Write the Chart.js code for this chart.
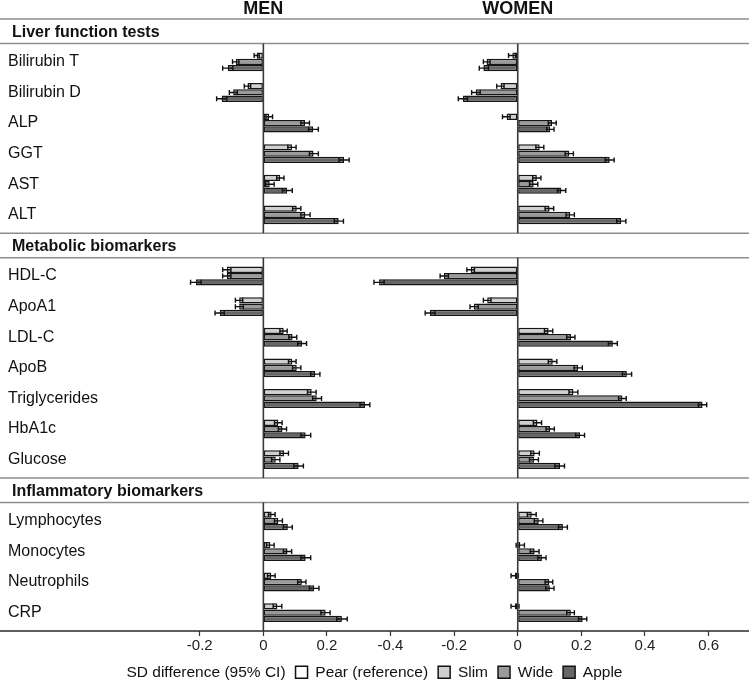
<!DOCTYPE html>
<html><head><meta charset="utf-8">
<script src="https://cdn.jsdelivr.net/npm/chart.js@4.4.1/dist/chart.umd.min.js"></script>
<style>
html,body{margin:0;padding:0;background:#fff;overflow:hidden;}
#wrap{position:relative;width:749px;height:682px;overflow:hidden;background:#fff;}
#wrap canvas{position:absolute;left:0;top:0;}
</style></head><body>
<div id="wrap"><canvas id="men" width="749" height="690"></canvas><canvas id="women" width="749" height="690"></canvas></div>
<script>
// ---------- text ----------
const panelTitles = ['MEN', 'WOMEN'];
const sectionTitles = ['Liver function tests', 'Metabolic biomarkers', 'Inflammatory biomarkers'];
const liverTests = ['Bilirubin T', 'Bilirubin D', 'ALP', 'GGT', 'AST', 'ALT'];
const metabolicMarkers = ['HDL-C', 'ApoA1', 'LDL-C', 'ApoB', 'Triglycerides', 'HbA1c', 'Glucose'];
const inflammatoryMarkers = ['Lymphocytes', 'Monocytes', 'Neutrophils', 'CRP'];
const seriesNames = ['Pear (reference)', 'Slim', 'Wide', 'Apple'];
const legendTitle = 'SD difference (95% CI)';
const menTicks = [-0.2, 0, 0.2];
const womenTicks = [-0.4, -0.2, 0, 0.2, 0.4, 0.6];

// ---------- data (row order: liver, metabolic, inflammatory) ----------
const menSlim    = [-0.021,-0.050, 0.018, 0.090, 0.053, 0.105,-0.115,-0.076, 0.064, 0.091, 0.152, 0.047, 0.065, 0.026, 0.022, 0.025, 0.044];
const menSlimLo  = [-0.029,-0.060, 0.008, 0.077, 0.042, 0.092,-0.128,-0.088, 0.052, 0.079, 0.139, 0.035, 0.052, 0.016, 0.010, 0.013, 0.031];
const menSlimHi  = [-0.013,-0.040, 0.029, 0.103, 0.065, 0.118,-0.102,-0.065, 0.075, 0.103, 0.166, 0.059, 0.079, 0.037, 0.034, 0.037, 0.058];
const menWide    = [-0.087,-0.095, 0.131, 0.158, 0.020, 0.132,-0.115,-0.076, 0.092, 0.105, 0.168, 0.060, 0.039, 0.047, 0.076, 0.121, 0.196];
const menWideLo  = [-0.097,-0.107, 0.118, 0.145, 0.007, 0.118,-0.128,-0.088, 0.080, 0.092, 0.155, 0.047, 0.026, 0.035, 0.063, 0.108, 0.181];
const menWideHi  = [-0.077,-0.082, 0.145, 0.173, 0.034, 0.147,-0.102,-0.063, 0.105, 0.118, 0.183, 0.073, 0.052, 0.060, 0.089, 0.134, 0.210];
const menApple   = [-0.112,-0.131, 0.157, 0.254, 0.075, 0.237,-0.212,-0.137, 0.122, 0.163, 0.320, 0.133, 0.111, 0.077, 0.133, 0.160, 0.247];
const menAppleLo = [-0.128,-0.147, 0.142, 0.238, 0.060, 0.223,-0.229,-0.152, 0.108, 0.149, 0.304, 0.118, 0.096, 0.063, 0.118, 0.145, 0.231];
const menAppleHi = [-0.096,-0.115, 0.173, 0.270, 0.091, 0.252,-0.196,-0.123, 0.136, 0.178, 0.335, 0.149, 0.126, 0.091, 0.149, 0.175, 0.264];

const womenSlim    = [-0.017,-0.054,-0.035, 0.069, 0.060, 0.100,-0.148,-0.096, 0.097, 0.110, 0.175, 0.062, 0.053, 0.044, 0.008,-0.009,-0.009];
const womenSlimLo  = [-0.029,-0.066,-0.048, 0.057, 0.047, 0.086,-0.160,-0.108, 0.084, 0.096, 0.161, 0.049, 0.041, 0.030,-0.005,-0.021,-0.021];
const womenSlimHi  = [-0.006,-0.043,-0.024, 0.082, 0.073, 0.113,-0.136,-0.084, 0.110, 0.123, 0.189, 0.075, 0.068, 0.058, 0.021, 0.002, 0.004];
const womenWide    = [-0.098,-0.132, 0.108, 0.162, 0.050, 0.165,-0.232,-0.138, 0.168, 0.190, 0.329, 0.102, 0.051, 0.066, 0.053, 0.099, 0.167];
const womenWideLo  = [-0.108,-0.145, 0.096, 0.149, 0.037, 0.152,-0.244,-0.150, 0.154, 0.177, 0.317, 0.089, 0.037, 0.052, 0.039, 0.086, 0.154];
const womenWideHi  = [-0.087,-0.118, 0.121, 0.175, 0.063, 0.178,-0.218,-0.124, 0.180, 0.203, 0.341, 0.115, 0.065, 0.079, 0.067, 0.110, 0.178];
const womenApple   = [-0.108,-0.172, 0.102, 0.289, 0.137, 0.325,-0.436,-0.276, 0.299, 0.343, 0.581, 0.196, 0.133, 0.142, 0.076, 0.101, 0.204];
const womenAppleLo = [-0.121,-0.187, 0.091, 0.275, 0.125, 0.311,-0.452,-0.291, 0.285, 0.329, 0.568, 0.182, 0.117, 0.128, 0.063, 0.088, 0.191];
const womenAppleHi = [-0.092,-0.158, 0.114, 0.303, 0.151, 0.340,-0.420,-0.260, 0.313, 0.358, 0.594, 0.210, 0.147, 0.156, 0.089, 0.114, 0.217];

// ---------- styling ----------
const FONT = "'Liberation Sans', Arial, Helvetica, sans-serif";
const seriesColors = ['#ffffff', '#d0d0d0', '#9a9a9a', '#676767'];
Chart.defaults.font.family = FONT;
Chart.defaults.color = '#111';

// ---------- row layout (in row units) ----------
const HEAD = 0.8, PAD = 0.6;
const groups = [liverTests, metabolicMarkers, inflammatoryMarkers];
const categories = [], rowPos = [], sectionLayout = [];
let cursor = 0;
groups.forEach((g, gi) => {
  const top = cursor, headBottom = cursor + HEAD;
  let p = headBottom + PAD;
  g.forEach(c => { categories.push(c); rowPos.push(p); p += 1; });
  const end = p - 1 + PAD;
  sectionLayout.push({ title: sectionTitles[gi], top, headBottom, end });
  cursor = end;
});
const Y_MAX = cursor;

const CHART_TOP = 19, AXIS_Y = 631, MEN_AREA_LEFT = 168, SPLIT_X = 374.6, LEGEND_SHIFT = 27.8;

function pts(vals) { return vals.map((v, i) => ({ x: v, y: rowPos[i] })); }

function makeDatasets(slim, slimLo, slimHi, wide, wideLo, wideHi, apple, appleLo, appleHi) {
  return [
    { label: seriesNames[0], data: rowPos.map(p => ({ x: null, y: p })), backgroundColor: seriesColors[0], grouped: false },
    { label: seriesNames[1], data: pts(slim), ciLo: slimLo, ciHi: slimHi, backgroundColor: seriesColors[1] },
    { label: seriesNames[2], data: pts(wide), ciLo: wideLo, ciHi: wideHi, backgroundColor: seriesColors[2] },
    { label: seriesNames[3], data: pts(apple), ciLo: appleLo, ciHi: appleHi, backgroundColor: seriesColors[3] }
  ];
}

const framePlugin = {
  id: 'frame',
  beforeDatasetsDraw(chart, args, opts) {
    if (!opts.drawFrame) return;
    const ctx = chart.ctx, y = chart.scales.y;
    ctx.save();
    ctx.strokeStyle = '#8e8e8e'; ctx.lineWidth = 1.5;
    sectionLayout.forEach(s => {
      [s.top, s.headBottom].forEach(v => {
        const py = y.getPixelForValue(v);
        ctx.beginPath(); ctx.moveTo(0, py); ctx.lineTo(chart.width, py); ctx.stroke();
      });
    });
    const pb = y.getPixelForValue(Y_MAX);
    ctx.strokeStyle = '#2a2a2a'; ctx.lineWidth = 1.6;
    ctx.beginPath(); ctx.moveTo(0, pb); ctx.lineTo(chart.width, pb); ctx.stroke();
    ctx.fillStyle = '#111'; ctx.font = 'bold 16px ' + FONT;
    ctx.textAlign = 'left'; ctx.textBaseline = 'alphabetic';
    sectionLayout.forEach(s => {
      const py = y.getPixelForValue((s.top + s.headBottom) / 2);
      ctx.fillText(s.title, 12, py + 5.7);
    });
    ctx.restore();
  },
  afterDatasetsDraw(chart, args, opts) {
    const ctx = chart.ctx, x = chart.scales.x, y = chart.scales.y;
    ctx.save();
    // error bars
    ctx.strokeStyle = '#111'; ctx.lineWidth = 1.4;
    chart.data.datasets.forEach((ds, di) => {
      if (!ds.ciLo) return;
      const meta = chart.getDatasetMeta(di);
      meta.data.forEach((el, i) => {
        const cy = el.y;
        const x1 = x.getPixelForValue(ds.ciLo[i]), x2 = x.getPixelForValue(ds.ciHi[i]);
        ctx.beginPath();
        ctx.moveTo(x1, cy); ctx.lineTo(x2, cy);
        ctx.moveTo(x1, cy - 2.5); ctx.lineTo(x1, cy + 2.5);
        ctx.moveTo(x2, cy - 2.5); ctx.lineTo(x2, cy + 2.5);
        ctx.stroke();
      });
    });
    // zero lines per section
    const zx = x.getPixelForValue(0);
    ctx.strokeStyle = '#3a3a3a'; ctx.lineWidth = 1.6;
    sectionLayout.forEach(s => {
      ctx.beginPath();
      ctx.moveTo(zx, y.getPixelForValue(s.headBottom));
      ctx.lineTo(zx, y.getPixelForValue(s.end));
      ctx.stroke();
    });
    // panel title
    ctx.fillStyle = '#111'; ctx.font = 'bold 18px ' + FONT;
    ctx.textAlign = 'center'; ctx.textBaseline = 'alphabetic';
    ctx.fillText(opts.title, zx, 14);
    ctx.restore();
  }
};

function fixAxisHeight(scale) {
  const ch = scale.chart;
  const lh = (ch.legend && ch.options.plugins.legend.display) ? ch.legend.height : 0;
  scale.height = ch.height - lh - AXIS_Y;
}

function buildChart(id, datasets, opts) {
  const isMen = opts.isMen;
  const scales = {
    x: {
      type: 'linear', position: 'bottom', min: opts.min, max: opts.max, offset: false,
      afterBuildTicks: s => { s.ticks = opts.ticks.map(v => ({ value: v })); },
      afterFit: fixAxisHeight,
      grid: { drawOnChartArea: false, drawTicks: true, tickLength: 5, tickWidth: 1.2, tickColor: '#333', offset: false },
      border: { display: false },
      ticks: { font: { size: 15 }, color: '#222', padding: 1, autoSkip: false, maxRotation: 0,
               callback: v => (v === 0 ? '0' : v.toFixed(1)) }
    },
    y: {
      type: 'linear', position: 'left', reverse: true, min: 0, max: Y_MAX, offset: false,
      afterBuildTicks: s => { s.ticks = rowPos.map(v => ({ value: v })); },
      afterFit: s => { s.width = isMen ? MEN_AREA_LEFT - 8 : SPLIT_X; },
      grid: { display: false, offset: false }, border: { display: false },
      ticks: { display: isMen, autoSkip: false, crossAlign: 'far', padding: 0,
               font: { size: 16 }, color: '#111', callback: (v, i) => categories[i] }
    }
  };
  if (isMen) {
    scales.yr = {
      type: 'linear', position: 'right', display: true, offset: false,
      afterFit: s => { s.width = 749 - LEGEND_SHIFT - SPLIT_X; },
      grid: { display: false }, border: { display: false }, ticks: { display: false }
    };
  }
  return new Chart(document.getElementById(id), {
    type: 'bar',
    data: { datasets },
    plugins: [framePlugin],
    options: {
      indexAxis: 'y',
      responsive: false, animation: false, devicePixelRatio: 1,
      layout: { padding: { top: CHART_TOP, left: isMen ? 8 : 0, right: isMen ? LEGEND_SHIFT : 0, bottom: 0 } },
      datasets: { bar: { barThickness: 6.3, borderWidth: 1.5, borderColor: '#151515', borderSkipped: false, inflateAmount: 0 } },
      scales,
      plugins: {
        tooltip: { enabled: false },
        frame: { drawFrame: isMen, title: opts.title },
        legend: {
          display: isMen, position: 'bottom',
          labels: {
            boxWidth: 12, boxHeight: 12, padding: 10, font: { size: 15.5 }, color: '#111',
            generateLabels: ch => {
              const items = [{ text: legendTitle, fillStyle: 'rgba(0,0,0,0)', strokeStyle: 'rgba(0,0,0,0)',
                               lineWidth: 0, hidden: false, datasetIndex: -1, fontColor: '#111' }];
              ch.data.datasets.forEach((d, i) => items.push({ text: d.label, fillStyle: d.backgroundColor,
                strokeStyle: '#111', lineWidth: 1.5, hidden: false, datasetIndex: i, fontColor: '#111' }));
              return items;
            }
          }
        }
      }
    }
  });
}

buildChart('men', makeDatasets(menSlim, menSlimLo, menSlimHi, menWide, menWideLo, menWideHi, menApple, menAppleLo, menAppleHi),
  { isMen: true, min: -0.3, max: 0.35, ticks: menTicks, title: panelTitles[0] });
buildChart('women', makeDatasets(womenSlim, womenSlimLo, womenSlimHi, womenWide, womenWideLo, womenWideHi, womenApple, womenAppleLo, womenAppleHi),
  { isMen: false, min: -0.45, max: 0.727, ticks: womenTicks, title: panelTitles[1] });
</script>
</body></html>
